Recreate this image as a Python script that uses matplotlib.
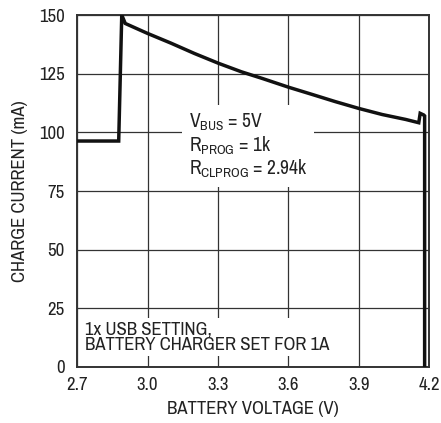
import matplotlib
matplotlib.use("Agg")
import matplotlib.pyplot as plt

plt.rcParams['font.family'] = ['Archivo Narrow', 'DejaVu Sans']
plt.rcParams['mathtext.fontset'] = 'custom'
plt.rcParams['mathtext.rm'] = 'Archivo Narrow'

# battery voltage (V) and charge current (mA)
voltage = [2.70, 2.877, 2.890, 2.905, 2.999, 3.10, 3.20, 3.303, 3.40, 3.488,
           3.530, 3.602, 3.70, 3.80, 3.900, 4.00, 4.10, 4.156, 4.162, 4.177,
           4.181, 4.181]
current = [96.3, 96.3, 150.0, 146.4, 142.2, 138.0, 133.6, 129.4, 125.8, 123.0,
           121.6, 119.2, 116.2, 113.1, 110.2, 107.6, 105.5, 104.1, 108.1, 107.4,
           107.0, 0.0]

xticks = [2.7, 3.0, 3.3, 3.6, 3.9, 4.2]
xticklabels = ["2.7", "3.0", "3.3", "3.6", "3.9", "4.2"]
yticks = [0, 25, 50, 75, 100, 125, 150]

fig = plt.figure(figsize=(4.41, 4.23), dpi=100)
ax = fig.add_axes([0.175, 0.1324, 0.798, 0.8321])

ax.plot(voltage, current, color='#111111', lw=2.5, solid_joinstyle='miter', zorder=3)

ax.set_xlim(2.7, 4.2)
ax.set_ylim(0, 150)
ax.set_xticks(xticks)
ax.set_xticklabels(xticklabels)
ax.set_yticks(yticks)
ax.tick_params(length=0, labelsize=13.5, colors='#222222')
ax.tick_params(axis='x', pad=7)
ax.tick_params(axis='y', pad=9)
ax.grid(True, color='#333333', lw=0.9)
ax.set_axisbelow(True)
for s in ax.spines.values():
    s.set_color('#333333')
    s.set_linewidth(1.4)

ax.set_xlabel("BATTERY VOLTAGE (V)", fontsize=13.5, color='#222222', labelpad=6)
ax.set_ylabel("CHARGE CURRENT (mA)", fontsize=13.5, color='#222222', labelpad=8)

note = ("V$_{\\mathregular{BUS}}$ = 5V\n"
        "R$_{\\mathregular{PROG}}$ = 1k\n"
        "R$_{\\mathregular{CLPROG}}$ = 2.94k")
ax.text(3.175, 108.8, note, fontsize=14, color='#222222', va='top', ha='left',
        linespacing=1.08, zorder=2,
        bbox=dict(facecolor='white', edgecolor='none', pad=5))

ax.text(2.735, 19.5, "1x USB SETTING,\nBATTERY CHARGER SET FOR 1A", fontsize=13.5,
        color='#222222', va='top', ha='left', linespacing=1.0, zorder=2,
        bbox=dict(facecolor='white', edgecolor='none', pad=2))

fig.savefig("out.png", dpi=100)
